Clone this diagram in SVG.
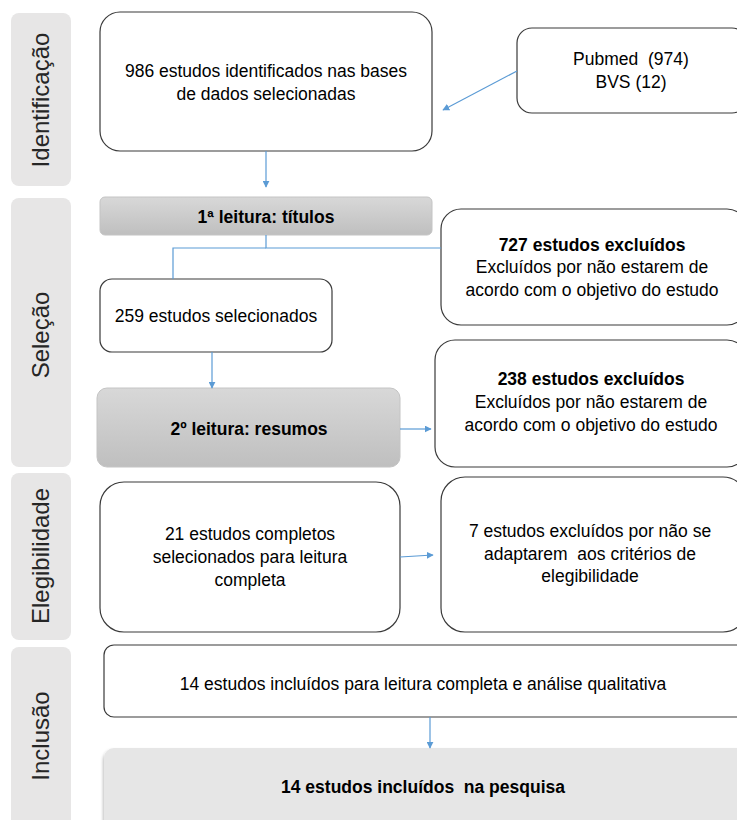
<svg xmlns="http://www.w3.org/2000/svg" width="737" height="820" viewBox="0 0 737 820">
<defs>
<style>
.side{fill:#e7e6e6;}
.sidet{font-family:"Liberation Sans",Arial,sans-serif;font-size:24px;fill:#262626;text-anchor:middle;}
.box{fill:#ffffff;stroke:#3a3a3a;stroke-width:1.2;}
.gbox{fill:url(#g);stroke:#c4c4c4;stroke-width:1;}
.lbox{fill:#e6e6e6;stroke:none;}
.t{font-family:"Liberation Sans",Arial,sans-serif;font-size:17.5px;fill:#000;text-anchor:middle;}
.b{font-weight:bold;}
.c{fill:none;stroke:#5b9bd5;stroke-width:1.2;}
</style>
<linearGradient id="g" x1="0" y1="0" x2="0" y2="1">
<stop offset="0" stop-color="#d8d8d8"/>
<stop offset="1" stop-color="#bfbfbf"/>
</linearGradient>
<marker id="ah" viewBox="0 0 10 10" refX="9" refY="5" markerWidth="7" markerHeight="7" markerUnits="userSpaceOnUse" orient="auto">
<path d="M0,0 L10,5 L0,10 z" fill="#5b9bd5"/>
</marker>
<filter id="sh" x="-5%" y="-5%" width="110%" height="120%">
<feDropShadow dx="-1" dy="2" stdDeviation="1.5" flood-color="#000" flood-opacity="0.25"/>
</filter>
</defs>

<g id="lane-identificacao">
<rect class="side" x="11" y="13" width="60" height="173" rx="8"/>
<text class="sidet" transform="translate(49,100) rotate(-90)">Identificação</text>
</g>
<g id="lane-selecao">
<rect class="side" x="11" y="198" width="60" height="269" rx="8"/>
<text class="sidet" transform="translate(49,335) rotate(-90)">Seleção</text>
</g>
<g id="lane-elegibilidade">
<rect class="side" x="11" y="473" width="60" height="167" rx="8"/>
<text class="sidet" transform="translate(49,556) rotate(-90)">Elegibilidade</text>
</g>
<g id="lane-inclusao">
<rect class="side" x="11" y="647" width="60" height="185" rx="8"/>
<text class="sidet" transform="translate(49,736) rotate(-90)">Inclusão</text>
</g>

<g id="n-identificados">
<rect class="box" x="100" y="12" width="332" height="139" rx="20"/>
<text class="t" x="266" y="77">986 estudos identificados nas bases</text>
<text class="t" x="266" y="100">de dados selecionadas</text>
</g>

<g id="n-bases">
<rect class="box" x="517" y="28" width="230" height="85" rx="15"/>
<text class="t" x="631" y="65">Pubmed&#160; (974)</text>
<text class="t" x="631" y="88">BVS (12)</text>
</g>

<g id="n-leitura1">
<rect class="gbox" x="100" y="197" width="332" height="38" rx="5"/>
<text class="t b" x="266" y="223">1ª leitura: títulos</text>
</g>

<g id="n-excluidos727">
<rect class="box" x="441" y="209" width="306" height="116" rx="20"/>
<text class="t b" x="592" y="251">727 estudos excluídos</text>
<text class="t" x="592" y="273">Excluídos por não estarem de</text>
<text class="t" x="592" y="296">acordo com o objetivo do estudo</text>
</g>

<g id="n-selecionados259">
<rect class="box" x="100" y="279" width="232" height="73" rx="12"/>
<text class="t" x="216" y="322">259 estudos selecionados</text>
</g>

<g id="n-leitura2">
<rect class="gbox" x="97" y="388" width="303" height="79" rx="10"/>
<text class="t b" x="249" y="435">2º leitura: resumos</text>
</g>

<g id="n-excluidos238">
<rect class="box" x="435" y="340" width="312" height="127" rx="20"/>
<text class="t b" x="591" y="385">238 estudos excluídos</text>
<text class="t" x="591" y="408">Excluídos por não estarem de</text>
<text class="t" x="591" y="431">acordo com o objetivo do estudo</text>
</g>

<g id="n-completos21">
<rect class="box" x="100" y="482" width="300" height="150" rx="24"/>
<text class="t" x="250" y="540">21 estudos completos</text>
<text class="t" x="250" y="563">selecionados para leitura</text>
<text class="t" x="250" y="586">completa</text>
</g>

<g id="n-excluidos7">
<rect class="box" x="441" y="477" width="306" height="155" rx="24"/>
<text class="t" x="590" y="537">7 estudos excluídos por não se</text>
<text class="t" x="590" y="560">adaptarem&#160; aos critérios de</text>
<text class="t" x="590" y="582">elegibilidade</text>
</g>

<g id="n-incluidos14">
<rect class="box" x="104" y="645" width="643" height="72" rx="10"/>
<text class="t" x="423" y="690">14 estudos incluídos para leitura completa e análise qualitativa</text>
</g>

<g id="n-pesquisa">
<rect class="lbox" x="104" y="748" width="643" height="90" rx="10" filter="url(#sh)"/>
<text class="t b" x="423" y="793">14 estudos incluídos&#160; na pesquisa</text>
</g>

<g id="connectors">
<line class="c" x1="266" y1="151" x2="266" y2="187" marker-end="url(#ah)"/>
<line class="c" x1="517" y1="71" x2="443" y2="110" marker-end="url(#ah)"/>
<polyline class="c" points="266,235 266,248 441,248"/>
<polyline class="c" points="266,248 173,248 173,279"/>
<line class="c" x1="212" y1="352" x2="212" y2="388" marker-end="url(#ah)"/>
<line class="c" x1="400" y1="429" x2="431" y2="429" marker-end="url(#ah)"/>
<line class="c" x1="400" y1="557" x2="433" y2="555" marker-end="url(#ah)"/>
<line class="c" x1="430" y1="717" x2="430" y2="748" marker-end="url(#ah)"/>
</g>
</svg>
